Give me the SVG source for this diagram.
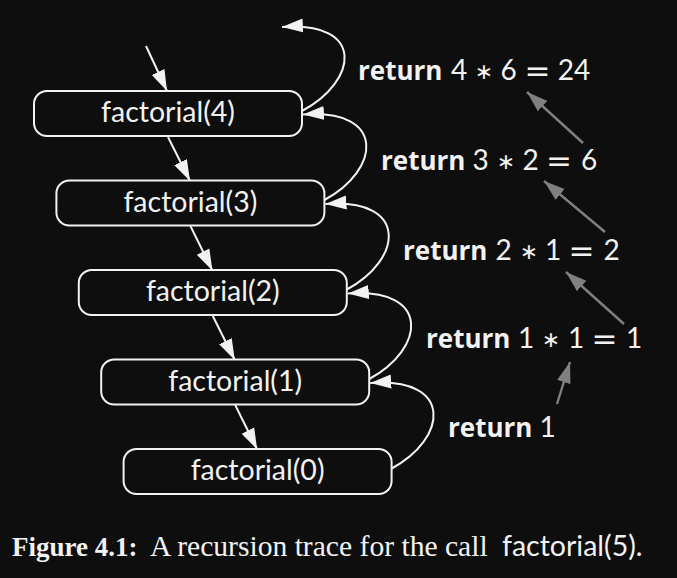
<svg xmlns="http://www.w3.org/2000/svg" width="677" height="578" viewBox="0 0 677 578">
<defs>
<marker id="ah" markerUnits="userSpaceOnUse" markerWidth="22" markerHeight="15" refX="21" refY="7.5" orient="auto" viewBox="0 0 22 15">
<path d="M0,0.5 L21,7.5 L0,14.5 z" fill="#f2f2f2"/>
</marker>
<marker id="ahg" markerUnits="userSpaceOnUse" markerWidth="22" markerHeight="15" refX="21" refY="7.5" orient="auto" viewBox="0 0 22 15">
<path d="M0,0.5 L21,7.5 L0,14.5 z" fill="#808080"/>
</marker>
<style>
.box{fill:#0e0e0e;stroke:#f2f2f2;stroke-width:2}
.nt{font-family:Lato,"Open Sans",sans-serif;font-size:28.5px;fill:#f2f2f2;text-anchor:middle}
.w{fill:none;stroke:#f2f2f2;stroke-width:2;marker-end:url(#ah)}
.g{fill:none;stroke:#808080;stroke-width:2.4;marker-end:url(#ahg)}
.lab{font-family:Lato,"Open Sans",sans-serif;font-size:28px;fill:#f2f2f2}
.b{font-family:"Open Sans",Lato,sans-serif;font-size:26px;font-weight:bold}
.m{text-anchor:middle}
.s{text-anchor:middle;font-family:"DejaVu Sans",sans-serif;font-size:22px}
.e{text-anchor:middle;font-family:"DejaVu Sans",sans-serif;font-size:31px}
.cap{font-family:"Liberation Serif","Times New Roman",serif;font-size:29.6px;fill:#f2f2f2}
</style>
</defs>
<rect width="677" height="578" fill="#0e0e0e"/>
<g id="connectors">
<path class="w" d="M146,46 L167,91"/>
<path class="w" d="M168,137 L190,181"/>
<path class="w" d="M190.4,226 L212.4,270.5"/>
<path class="w" d="M212.8,316 L234.8,360"/>
<path class="w" d="M235.2,405 L257.2,449.5"/>
<path class="w" d="M302,111 C358,81 366,21 282,27"/>
<path class="w" d="M324.4,200 C380.4,170 387,108.5 303,114.5"/>
<path class="w" d="M346.8,289.5 C402.8,259.5 409.4,198 325.4,204"/>
<path class="w" d="M369.2,379 C425.2,349 431.8,287.5 347.8,293.5"/>
<path class="w" d="M391.6,468.5 C447.6,438.5 454.2,377 370.2,383"/>
<path class="g" d="M583,143 L527,92"/>
<path class="g" d="M605,232 L544,181"/>
<path class="g" d="M624,324 L566,272"/>
<path class="g" d="M557,404 L570,362"/>
</g>
<g id="n4"><rect class="box" x="34" y="91" width="268" height="45" rx="13"/><text class="nt" x="168" y="122">factorial(4)</text></g>
<g id="n3"><rect class="box" x="56.4" y="180.5" width="268" height="45" rx="13"/><text class="nt" x="190.4" y="211.5">factorial(3)</text></g>
<g id="n2"><rect class="box" x="78.8" y="270" width="268" height="45" rx="13"/><text class="nt" x="212.8" y="301">factorial(2)</text></g>
<g id="n1"><rect class="box" x="101.2" y="359.5" width="268" height="45" rx="13"/><text class="nt" x="235.2" y="390.5">factorial(1)</text></g>
<g id="n0"><rect class="box" x="123.6" y="449" width="268" height="45" rx="13"/><text class="nt" x="257.6" y="480">factorial(0)</text></g>
<g id="labels">
<text class="lab" y="80"><tspan class="b" x="358">return</tspan><tspan class="m" x="459">4</tspan><tspan class="s" x="484" dy="-1">∗</tspan><tspan class="m" x="508.5" dy="1">6</tspan><tspan class="e" x="537.5" dy="1">=</tspan><tspan class="m" x="574" dy="-1">24</tspan></text>
<text class="lab" y="170"><tspan class="b" x="381">return</tspan><tspan class="m" x="480.5">3</tspan><tspan class="s" x="506" dy="-1">∗</tspan><tspan class="m" x="530.5" dy="1">2</tspan><tspan class="e" x="559" dy="1">=</tspan><tspan class="m" x="589" dy="-1">6</tspan></text>
<text class="lab" y="260"><tspan class="b" x="403">return</tspan><tspan class="m" x="503.5">2</tspan><tspan class="s" x="529" dy="-1">∗</tspan><tspan class="m" x="553" dy="1">1</tspan><tspan class="e" x="581.5" dy="1">=</tspan><tspan class="m" x="611.5" dy="-1">2</tspan></text>
<text class="lab" y="348"><tspan class="b" x="426">return</tspan><tspan class="m" x="526">1</tspan><tspan class="s" x="551" dy="-1">∗</tspan><tspan class="m" x="576" dy="1">1</tspan><tspan class="e" x="604.5" dy="1">=</tspan><tspan class="m" x="634" dy="-1">1</tspan></text>
<text class="lab" y="437"><tspan class="b" x="448">return</tspan><tspan class="m" x="547.5">1</tspan></text>
</g>
<text class="cap" y="556"><tspan x="12" font-weight="bold" font-size="27">Figure 4.1:</tspan><tspan x="150">A recursion trace for the call</tspan><tspan x="502" font-family="Lato,'Open Sans',sans-serif" font-size="28.5">factorial(5).</tspan></text>
</svg>
